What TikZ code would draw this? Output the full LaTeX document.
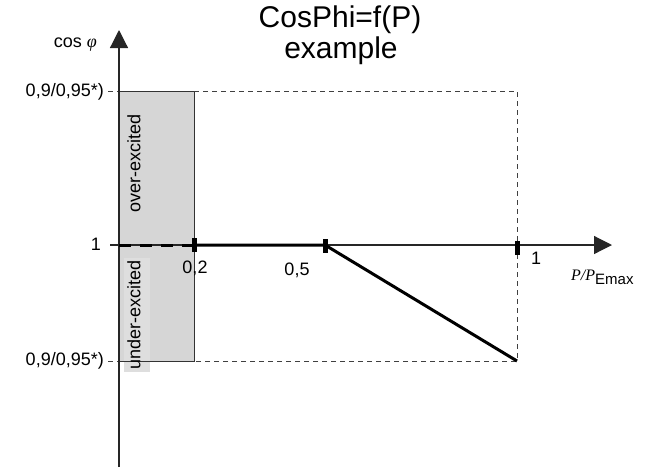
\documentclass[tikz,border=0pt]{standalone}
\usepackage{fontspec}
\setmainfont{Liberation Sans}
\newfontfamily\serifit{Liberation Serif}
\usetikzlibrary{arrows.meta}
\definecolor{bandgray}{HTML}{D6D6D6}
\definecolor{bandlight}{HTML}{DEDEDE}
\tikzset{
  axisline/.style={line width=1.2pt, draw=black!85},
  guide/.style={line width=0.9pt, draw=black!75, dash pattern=on 5pt off 4pt},
  curve/.style={line width=3pt, draw=black},
  tickmark/.style={fill=black, minimum width=5pt, minimum height=14pt, inner sep=0pt, draw=none},
  lbl/.style={font=\fontsize{18}{20}\selectfont, inner sep=1pt},
  vlbl/.style={font=\fontsize{18}{20}\selectfont, rotate=90, inner sep=1pt},
  titletext/.style={font=\fontsize{30}{34}\selectfont, inner sep=0pt},
  tip/.style={-{Triangle[length=18pt,width=18pt]}}
}
\begin{document}
\begin{tikzpicture}[x=1pt,y=-1pt]
\useasboundingbox (0,0) rectangle (648,467);
% coordinates
\coordinate (O) at (119,245);
\coordinate (yb) at (119,467);
\coordinate (yt) at (119,30);
\coordinate (xl) at (110,245);
\coordinate (xr) at (612,245);
\coordinate (p02) at (194,245);
\coordinate (p05) at (325,245);
\coordinate (p1) at (517,245);
\coordinate (tl) at (119,91);
\coordinate (tr) at (517,91);
\coordinate (bl) at (119,361);
\coordinate (br) at (517,361);
\coordinate (g2t) at (194,91);
\coordinate (g2b) at (194,361);
% shaded band
\fill[bandgray] (tl) rectangle (g2b);
\fill[bandlight] (124,258) rectangle (150,372);
\draw[line width=1pt, black!80] (tl) -- (g2t) -- (g2b) -- (bl);
% guides
\draw[guide] (g2t) -- (tr) -- (br) -- (g2b);
\draw[guide] (108,91) -- (tl);
\draw[guide] (108,361) -- (bl);
% axes
\draw[axisline, tip] (yb) -- (yt);
\draw[axisline, tip] (xl) -- (xr);
% curve
\draw[line width=3pt, dash pattern=on 12pt off 9pt] (O) -- (p02);
\draw[curve] (p02) -- (p05) -- (br);
% ticks
\node[tickmark] (t02) at (194,245) {};
\node[tickmark] (t05) at (325,246) {};
\node[tickmark] (t1) at (517,248) {};
% labels
\node[titletext] (title1) at (340,20) {CosPhi=f(P)};
\node[titletext] (title2) at (341,51) {example};
\node[font=\fontsize{18}{20}\selectfont, anchor=east, inner sep=1pt] (cphi) at (98,45) {cos {\serifit\itshape φ}};
\node[lbl, anchor=east] (ytop) at (105,92) {0,9/0,95*)};
\node[lbl, anchor=east] (ybot) at (105,361) {0,9/0,95*)};
\node[lbl] (one) at (96,244) {1};
\node[lbl] (l02) at (195,268) {0,2};
\node[lbl] (l05) at (297,270) {0,5};
\node[lbl] (l1) at (536,258) {1};
\node[anchor=base west, inner sep=0pt] (pax) at (571,280) {{\serifit\itshape\fontsize{16}{18}\selectfont P/P}\raisebox{-4pt}{\fontsize{15}{17}\selectfont Emax}};
\node[vlbl] (over) at (134,163) {over-excited};
\node[vlbl] (under) at (134,315) {under-excited};
\end{tikzpicture}
\end{document}
